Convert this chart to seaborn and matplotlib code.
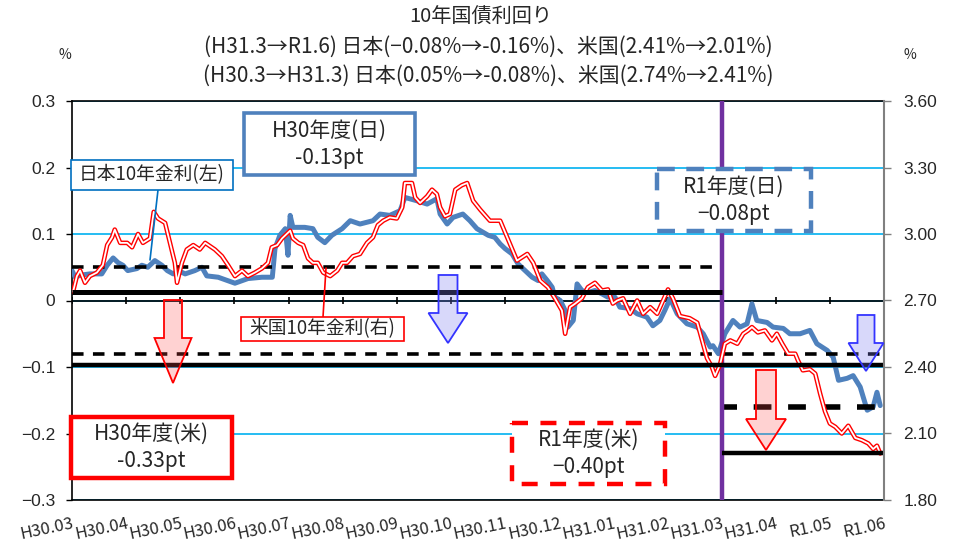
import matplotlib
matplotlib.use('Agg')
import matplotlib.pyplot as plt
import matplotlib.transforms as mtransforms
from matplotlib.patches import Rectangle, FancyArrow
from matplotlib.lines import Line2D
from matplotlib.ticker import StrMethodFormatter
import seaborn as sns

# month axis labels (one tick per month end)
month_labels = ['H30.03', 'H30.04', 'H30.05', 'H30.06', 'H30.07', 'H30.08', 'H30.09', 'H30.10',
                'H30.11', 'H30.12', 'H31.01', 'H31.02', 'H31.03', 'H31.04', 'R1.05', 'R1.06']

# Japan 10y yield (left axis, %), x = month position
jp_x = [0.00, 0.06, 0.15, 0.33, 0.55, 0.65, 0.76, 0.85, 0.94, 1.03, 1.20, 1.29, 1.40, 1.53, 1.66,
        1.76, 1.87, 1.96, 2.09, 2.27, 2.40, 2.49, 2.70, 3.01, 3.25, 3.51, 3.70, 3.75, 3.84, 3.94,
        3.99, 4.03, 4.08, 4.30, 4.45, 4.54, 4.67, 4.80, 4.99, 5.14, 5.32, 5.56, 5.69, 5.87, 6.06,
        6.15, 6.37, 6.56, 6.74, 6.80, 6.93, 7.04, 7.22, 7.35, 7.48, 7.69, 7.81, 7.91, 8.00, 8.13,
        8.24, 8.37, 8.50, 8.61, 8.68, 8.78, 8.87, 8.92, 9.02, 9.11, 9.16, 9.26, 9.33, 9.42, 9.53,
        9.66, 9.79, 9.90, 10.03, 10.12, 10.31, 10.44, 10.62, 10.73, 10.86, 10.95, 11.05, 11.18, 11.36, 11.55,
        11.66, 11.79, 11.84, 11.94, 12.06, 12.21, 12.34, 12.47, 12.56, 12.65, 12.84, 12.95, 13.14, 13.26, 13.45,
        13.63, 13.76, 13.95, 14.06, 14.16, 14.32, 14.43, 14.56, 14.69, 14.80, 14.87, 14.93]
jp_rate = [0.045, 0.035, 0.038, 0.040, 0.040, 0.053, 0.064, 0.057, 0.053, 0.045, 0.048, 0.053, 0.050, 0.060, 0.053,
           0.045, 0.040, 0.045, 0.040, 0.045, 0.050, 0.037, 0.035, 0.026, 0.033, 0.035, 0.035, 0.078, 0.098, 0.108,
           0.068, 0.128, 0.110, 0.110, 0.108, 0.095, 0.087, 0.098, 0.108, 0.120, 0.115, 0.120, 0.130, 0.128, 0.135,
           0.155, 0.150, 0.145, 0.153, 0.130, 0.115, 0.125, 0.130, 0.120, 0.108, 0.098, 0.095, 0.085, 0.078, 0.070,
           0.055, 0.045, 0.035, 0.030, 0.040, 0.030, 0.020, 0.005, 0.000, -0.015, -0.040, -0.030, 0.025, 0.015, 0.012,
           0.015, 0.010, 0.005, 0.005, -0.010, -0.012, -0.020, -0.025, -0.038, -0.030, -0.015, 0.003, -0.020, -0.035, -0.040,
           -0.050, -0.070, -0.068, -0.080, -0.050, -0.030, -0.040, -0.035, -0.005, -0.030, -0.033, -0.040, -0.042, -0.050, -0.050,
           -0.045, -0.065, -0.075, -0.085, -0.120, -0.117, -0.113, -0.130, -0.165, -0.160, -0.138, -0.158]

# US 10y yield (right axis, %)
us_x = [0.02, 0.09, 0.15, 0.24, 0.33, 0.46, 0.57, 0.65, 0.74, 0.79, 0.89, 1.02, 1.11, 1.22, 1.31,
        1.44, 1.51, 1.59, 1.72, 1.81, 1.90, 1.94, 2.03, 2.12, 2.24, 2.36, 2.46, 2.64, 2.77, 2.88,
        3.01, 3.14, 3.25, 3.38, 3.51, 3.62, 3.69, 3.79, 3.88, 4.03, 4.08, 4.18, 4.27, 4.36, 4.45,
        4.54, 4.64, 4.77, 4.90, 4.99, 5.08, 5.19, 5.32, 5.45, 5.56, 5.65, 5.75, 5.87, 6.00, 6.10,
        6.15, 6.28, 6.34, 6.43, 6.56, 6.65, 6.74, 6.80, 6.89, 6.98, 7.08, 7.20, 7.30, 7.41, 7.54,
        7.72, 7.91, 8.04, 8.22, 8.41, 8.52, 8.65, 8.79, 8.92, 9.05, 9.11, 9.20, 9.29, 9.42, 9.53,
        9.66, 9.79, 9.90, 9.99, 10.07, 10.18, 10.31, 10.44, 10.55, 10.68, 10.81, 10.92, 11.01, 11.10, 11.23,
        11.41, 11.55, 11.64, 11.73, 11.82, 11.88, 11.97, 12.06, 12.16, 12.29, 12.40, 12.49, 12.56, 12.67, 12.80,
        12.93, 13.02, 13.12, 13.23, 13.36, 13.41, 13.50, 13.63, 13.73, 13.82, 13.91, 14.00, 14.10, 14.22, 14.34,
        14.47, 14.59, 14.71, 14.80, 14.87, 14.93]
us_rate = [2.74, 2.81, 2.835, 2.78, 2.81, 2.826, 2.86, 2.95, 2.985, 3.02, 2.96, 2.96, 2.94, 3.00, 2.96,
           2.98, 3.10, 3.07, 3.05, 2.96, 2.87, 2.78, 2.87, 2.93, 2.95, 2.93, 2.96, 2.93, 2.90, 2.86,
           2.81, 2.835, 2.81, 2.826, 2.845, 2.87, 2.94, 2.95, 2.98, 3.015, 2.98, 2.96, 2.95, 2.89, 2.87,
           2.87, 2.826, 2.81, 2.835, 2.87, 2.87, 2.90, 2.91, 2.96, 2.985, 3.04, 3.06, 3.075, 3.07, 3.12,
           3.23, 3.23, 3.165, 3.14, 3.17, 3.20, 3.18, 3.12, 3.08, 3.09, 3.20, 3.22, 3.23, 3.15, 3.11,
           3.06, 3.06, 2.985, 2.88, 2.91, 2.87, 2.79, 2.76, 2.71, 2.655, 2.55, 2.67, 2.685, 2.71, 2.76,
           2.78, 2.745, 2.75, 2.686, 2.70, 2.71, 2.64, 2.70, 2.64, 2.67, 2.64, 2.70, 2.75, 2.71, 2.63,
           2.62, 2.60, 2.52, 2.44, 2.40, 2.36, 2.41, 2.505, 2.52, 2.505, 2.55, 2.565, 2.58, 2.556, 2.565,
           2.52, 2.55, 2.505, 2.46, 2.46, 2.43, 2.385, 2.39, 2.37, 2.28, 2.20, 2.145, 2.13, 2.10, 2.135,
           2.08, 2.07, 2.055, 2.03, 2.045, 2.01]

# fiscal-year reference levels: H30.3, H31.3, R1.6
jp_levels = [0.05, -0.08, -0.16]
us_levels = [2.74, 2.41, 2.01]
fy_break = 12  # end of H30 fiscal year

left_ticklabels = ['\u22120.3', '\u22120.2', '\u22120.1', '0', '0.1', '0.2', '0.3']
left_ticks = [-0.3, -0.2, -0.1, 0, 0.1, 0.2, 0.3]
right_ticks = [1.8, 2.1, 2.4, 2.7, 3.0, 3.3, 3.6]

sns.set_style('white')
plt.rcParams['font.family'] = ['Noto Sans CJK JP', 'DejaVu Sans']

W, H = 962, 547
fig = plt.figure(figsize=(W / 100, H / 100), dpi=100)
ax = fig.add_axes([72 / W, 1 - 500 / H, 812 / W, 399 / H])
ax2 = ax.twinx()

# pixel coordinates (origin top-left) for annotations
px = mtransforms.Affine2D().scale(1 / W, -1 / H).translate(0, 1) + fig.transFigure

ax.set_xlim(0, 15)
ax.set_ylim(-0.3, 0.3)
ax2.set_ylim(1.8, 3.6)

# grid and zero line
ax.set_yticks(left_ticks)
ax.set_yticklabels(left_ticklabels, fontfamily='Liberation Sans')
ax.yaxis.grid(True, color='#00b0f0', lw=1.2)
ax.xaxis.grid(False)
ax.axhline(0, color='black', lw=1.2, zorder=2)
ax.vlines(range(len(month_labels)), -0.006, 0.006, color='black', lw=1.2, zorder=2)

ax.set_xticks(range(len(month_labels)))
ax.set_xticklabels(month_labels, rotation=12, ha='right', rotation_mode='anchor', fontsize=12)
ax.tick_params(axis='x', length=0, pad=11)
ax.tick_params(axis='y', direction='out', length=4, width=1, color='black', labelsize=12.5, pad=8)

# Japan series
sns.lineplot(x=jp_x, y=jp_rate, ax=ax, color='#4f81bd', lw=3.6, zorder=3)
ax.hlines(jp_levels[0], 0, fy_break, colors='black', lw=2.6, linestyles=(0, (3.2, 2.6)), zorder=4)
ax.hlines(jp_levels[1], 0, 15, colors='black', lw=2.6, linestyles=(0, (3.2, 2.6)), zorder=4)
ax.hlines(jp_levels[2], fy_break, 15, colors='black', lw=4, linestyles=(0.5, (3.2, 3.0)), zorder=4)
ax.axvline(fy_break, color='#7030a0', lw=3.2, zorder=5)

# US series (double red line)
sns.lineplot(x=us_x, y=us_rate, ax=ax2, color='#ff0000', lw=3.3)
sns.lineplot(x=us_x, y=us_rate, ax=ax2, color='white', lw=1.3)
ax2.hlines(us_levels[0], 0, fy_break, colors='black', lw=3.6)
ax2.hlines(us_levels[1], 0, 15, colors='black', lw=3.2)
ax2.hlines(us_levels[2], fy_break, 15, colors='black', lw=3.2)

ax2.set_yticks(right_ticks)
ax2.yaxis.set_major_formatter(StrMethodFormatter('{x:.2f}'))
for t in ax2.get_yticklabels():
    t.set_fontfamily('Liberation Sans')
ax2.tick_params(axis='y', direction='out', length=5, width=1, color='#808080', labelsize=12.5, pad=9)

for a in (ax, ax2):
    a.set_xlabel('')
    a.set_ylabel('')
for s in ('top', 'bottom', 'left'):
    ax.spines[s].set_color('black')
    ax.spines[s].set_linewidth(1.2)
    ax2.spines[s].set_visible(False)
ax.spines['right'].set_visible(False)
ax2.spines['right'].set_color('#808080')
ax2.spines['right'].set_linewidth(1.5)

# titles
fig.text(0.5, 1 - 17 / H, '10年国債利回り', ha='center', va='center', fontsize=14.5)
fig.text(0.508, 1 - 47 / H, '(H31.3→R1.6) 日本(\u22120.08%→-0.16%)、米国(2.41%→2.01%)',
         ha='center', va='center', fontsize=15)
fig.text(0.508, 1 - 76 / H, '(H30.3→H31.3) 日本(0.05%→-0.08%)、米国(2.74%→2.41%)',
         ha='center', va='center', fontsize=15)
fig.text(65 / W, 1 - 55 / H, '%', ha='center', va='center', fontsize=10)
fig.text(910 / W, 1 - 55 / H, '%', ha='center', va='center', fontsize=10)


def box(x0, y0, x1, y1, text, ec, lw, ls='-', fs=15):
    fig.add_artist(Rectangle((x0, y0), x1 - x0, y1 - y0, transform=px, fc='white', ec=ec,
                             lw=lw, ls=ls, zorder=2))
    fig.text((x0 + x1) / 2, (y0 + y1) / 2, text, transform=px, ha='center', va='center',
             fontsize=fs, linespacing=1.3, zorder=3)


def arrow(x, y0, y1, w, hw, hl, fc, ec):
    fig.add_artist(FancyArrow(x, y0, 0, y1 - y0, width=w, head_width=hw, head_length=hl,
                              length_includes_head=True, transform=px, fc=fc, ec=ec, lw=1.3, zorder=2))


# leader lines
fig.add_artist(Line2D([158, 150], [190, 260], transform=px, color='#0070c0', lw=1.2, zorder=2))
fig.add_artist(Line2D([326, 323], [268, 317], transform=px, color='#ff0000', lw=1.2, zorder=2))

box(244, 113, 415, 175, 'H30年度(日)\n-0.13pt', '#4f81bd', 2.6)
box(71, 160, 233, 190, '日本10年金利(左)', '#0070c0', 1.2, fs=13.5)
box(657, 169, 811, 231, 'R1年度(日)\n\u22120.08pt', '#4f81bd', 3.2, ls=(0, (4, 2.6)))
box(241, 317, 404, 341, '米国10年金利(右)', '#ff0000', 1.2, fs=13.5)
box(71, 417, 232, 478, 'H30年度(米)\n-0.33pt', '#ff0000', 3.2)
box(512, 423, 665, 484, 'R1年度(米)\n\u22120.40pt', '#ff0000', 3.2, ls=(0, (3.6, 2.8)))

# arrows
arrow(173, 300, 383, 18, 37, 45, (1, 0.31, 0.31, 0.25), '#ff0000')
arrow(448, 275, 343, 19, 39, 30, (0.5, 0.5, 0.94, 0.3), '#3333ff')
arrow(866, 315, 371, 17, 35, 28, (0.5, 0.5, 0.94, 0.3), '#3333ff')
arrow(766, 370, 450, 20, 40, 31, (1, 0.31, 0.31, 0.25), '#ff0000')

fig.savefig('out.png', dpi=100)
